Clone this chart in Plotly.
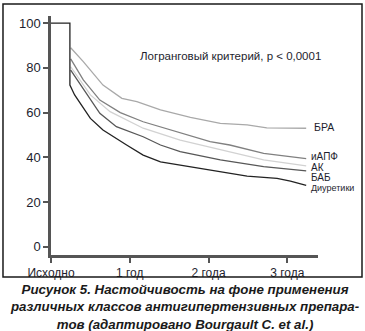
import plotly.graph_objects as go

# Persistence curves by antihypertensive drug class (time in years, % persisting)
t_bra = [0.25, 0.41, 0.66, 0.90, 1.09, 1.39, 1.77, 2.15, 2.49, 2.74, 3.24]
v_bra = [89.0, 82.8, 72.3, 66.4, 64.9, 61.2, 57.9, 55.2, 54.5, 53.2, 53.0]

t_iapf = [0.25, 0.41, 0.62, 0.88, 1.17, 1.64, 2.02, 2.27, 2.70, 3.24]
v_iapf = [84.0, 74.6, 65.6, 60.0, 55.9, 51.0, 47.0, 45.5, 41.8, 39.4]

t_ak = [0.25, 0.50, 0.75, 1.17, 1.64, 2.15, 2.70, 3.24]
v_ak = [80.5, 67.9, 60.4, 53.0, 47.7, 43.3, 38.8, 36.2]

t_bab = [0.25, 0.43, 0.62, 0.83, 1.17, 1.39, 1.64, 2.15, 2.70, 3.24]
v_bab = [79.0, 69.4, 59.7, 53.7, 49.2, 45.5, 42.5, 38.8, 35.8, 33.9]

t_diur = [0.0, 0.24, 0.24, 0.30, 0.50, 0.66, 0.96, 1.17, 1.39, 1.64, 2.06, 2.49, 2.87, 3.04, 3.24]
v_diur = [100.0, 100.0, 72.3, 67.9, 57.4, 52.2, 45.5, 41.0, 38.0, 36.5, 34.3, 31.6, 30.6, 29.3, 27.4]

series_names = ["БРА", "иАПФ", "АК", "БАБ", "Диуретики"]
series_t = [t_bra, t_iapf, t_ak, t_bab, t_diur]
series_v = [v_bra, v_iapf, v_ak, v_bab, v_diur]
series_colors = ["#a9a9a9", "#808080", "#d2d2d2", "#575757", "#222222"]

tick_vals = [0, 1, 2, 3]
tick_text = ["Исходно", "1 год", "2 года", "3 года"]
y_ticks = [0, 20, 40, 60, 80, 100]

fig = go.Figure()
for name, t, v, c in zip(series_names, series_t, series_v, series_colors):
    fig.add_trace(go.Scatter(x=t, y=v, mode="lines", name=name,
                             line=dict(color=c, width=1.3),
                             showlegend=False, hoverinfo="skip"))

# End-of-curve labels
label_y = [53.6, 40.2, 35.4, 31.0, 26.3]
label_sizes = [10.5, 10, 10, 10, 9]
annotations = []
for name, yy, fs in zip(series_names, label_y, label_sizes):
    annotations.append(dict(x=3.27 if name != "БРА" else 3.32, y=yy, xref="x", yref="y",
                            text=name, showarrow=False, xanchor="left", yanchor="middle",
                            font=dict(family="Liberation Sans, Arial", size=fs, color="#1e1e2e")))

annotations.append(dict(x=1.11, y=85.5, xref="x", yref="y",
                        text="Логранговый критерий, p < 0,0001", showarrow=False,
                        xanchor="left", yanchor="middle",
                        font=dict(family="Liberation Sans, Arial", size=11.5, color="#1e1e2e")))

caption = ("<b><i>Рисунок 5. Настойчивость на фоне применения<br>"
           "различных классов антигипертензивных препара-<br>"
           "тов (адаптировано Bourgault C. et al.)</i></b>")
annotations.append(dict(x=0.5, y=-0.2165, xref="paper", yref="paper",
                        text=caption, showarrow=False, xanchor="center", yanchor="middle",
                        align="center",
                        font=dict(family="Liberation Sans, Arial", size=13.3, color="#1a1a1a")))

fig.update_layout(
    width=365, height=331,
    margin=dict(l=51, r=47, t=16, b=76),
    paper_bgcolor="white", plot_bgcolor="white",
    annotations=annotations,
    xaxis=dict(range=[0, 3.39], tickvals=tick_vals, ticktext=tick_text,
               showline=True, linecolor="#555555", linewidth=2.5,
               ticks="outside", ticklen=5, tickwidth=2, tickcolor="#555555",
               showgrid=False, zeroline=False,
               tickfont=dict(family="Liberation Sans, Arial", size=12, color="#1e1e2e")),
    yaxis=dict(range=[-3.7, 103.2], tickvals=y_ticks,
               showline=True, linecolor="#555555", linewidth=2.5,
               ticks="outside", ticklen=5, tickwidth=2, tickcolor="#555555",
               showgrid=False, zeroline=False,
               tickfont=dict(family="Liberation Sans, Arial", size=13, color="#1e1e2e")),
    shapes=[dict(type="rect", xref="paper", yref="paper",
                 x0=-0.1798, x1=1.1648, y0=-0.092, y1=1.0502,
                 line=dict(color="#1a1a1a", width=1.5))],
)

fig.write_html("out.html")
